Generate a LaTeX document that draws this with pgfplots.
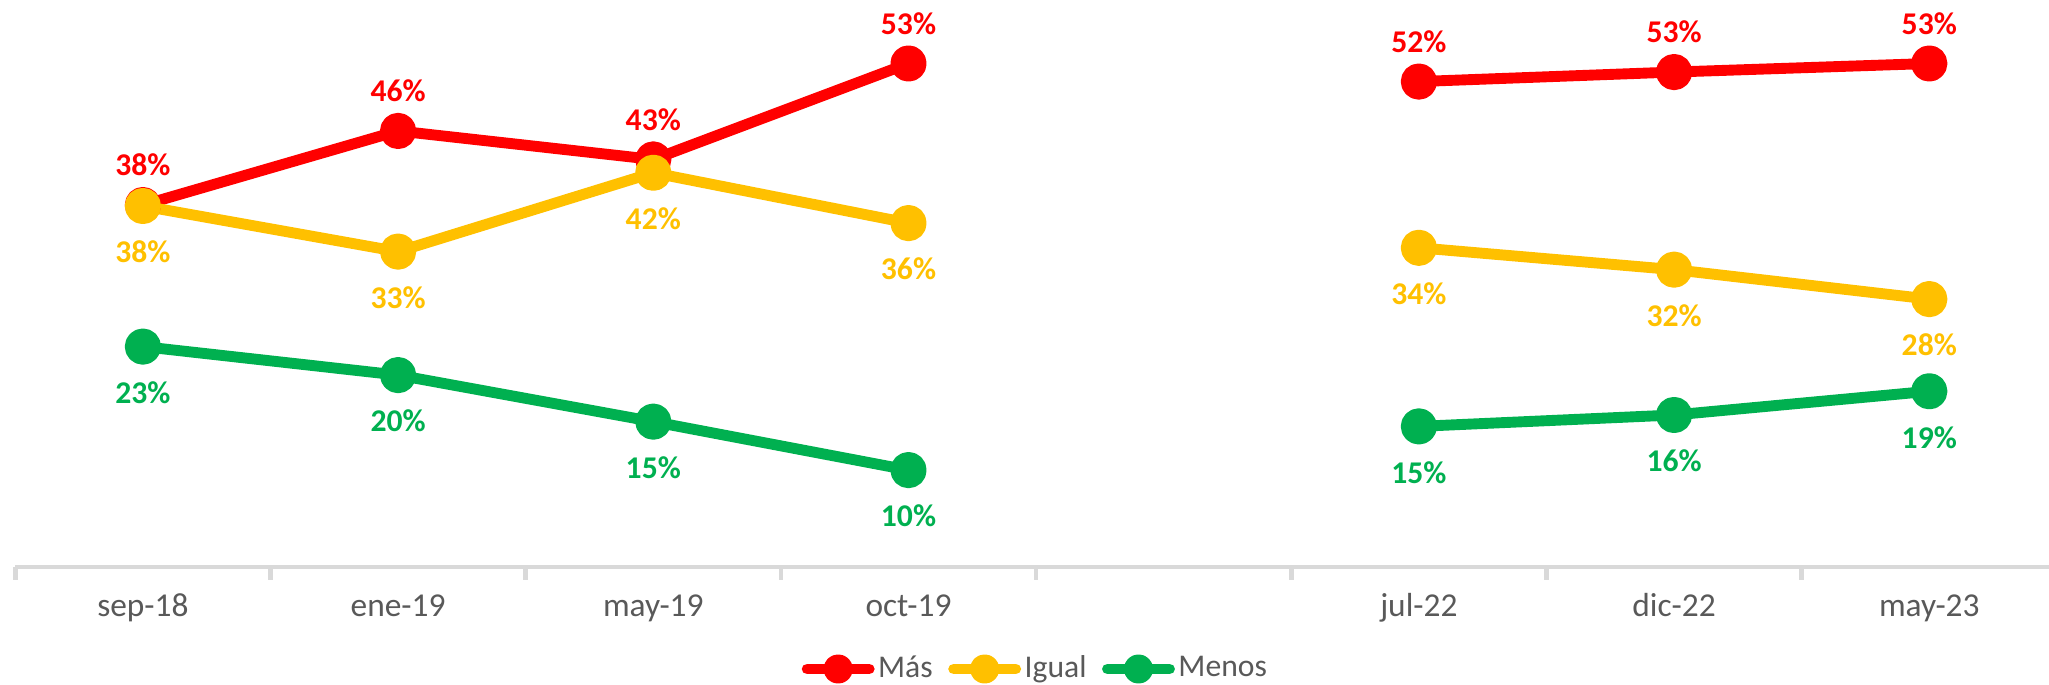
\documentclass[border=0pt]{standalone}
\usepackage{fontspec}
\setmainfont{Carlito}
\usepackage{pgfplots}
\pgfplotsset{compat=1.18}
\definecolor{mas}{HTML}{FF0000}
\definecolor{igual}{HTML}{FFC000}
\definecolor{menos}{HTML}{00B050}
\definecolor{txt}{HTML}{595959}
\definecolor{axl}{HTML}{D9D9D9}

\begin{document}
\begin{tikzpicture}
\useasboundingbox (-0.153,-1.18) rectangle (20.337,5.67);
\begin{axis}[
    at={(0,0)}, anchor=south west,
    scale only axis, width=20.416cm, height=5.605cm,
    xmin=-0.5, xmax=7.5, ymin=0, ymax=59,
    axis x line=bottom, axis y line=none,
    x axis line style={-, draw=axl, line width=1.3pt},
    xtick={0,...,7},
    xticklabels={sep-18,ene-19,may-19,oct-19,,jul-22,dic-22,may-23},
    major tick length=0pt,
    minor xtick={-0.5,0.5,...,7.5}, minor tick length=0.13cm,
    tick align=outside,
    minor tick style={draw=axl, line width=1.3pt},
    xticklabel style={font=\fontsize{9.5}{11}\selectfont, text=txt, anchor=base, yshift=-0.5cm},
    unbounded coords=jump,
    legend style={at={(0.5,-0.182)}, anchor=center, draw=none, fill=none,
        legend columns=3, font=\fontsize{9}{11}\selectfont, text=txt,
        /tikz/every even column/.append style={column sep=0.12cm},
        nodes={inner sep=1pt}},
    legend image code/.code={
        \draw[line cap=round, #1] (0cm,0cm) -- (0.62cm,0cm);
        \fill[#1] (0.31cm,0cm) circle (2.6pt);},
    every axis plot/.append style={line width=3.1pt, line join=round, mark=*, mark size=3.6pt},
    nodes near coords, point meta=explicit symbolic,
]
\addplot[mas, mark options={fill=mas},
    every node near coord/.append style={font=\bfseries\fontsize{9}{11}\selectfont, text=mas, anchor=center, yshift=0.40cm}]
    coordinates {(0,38.1)[38\%] (1,45.9)[46\%] (2,42.9)[43\%] (3,53.0)[53\%] (4,nan)[] (5,51.1)[52\%] (6,52.1)[53\%] (7,53.0)[53\%]};
\addplot[igual, mark options={fill=igual},
    every node near coord/.append style={font=\bfseries\fontsize{9}{11}\selectfont, text=igual, anchor=center, yshift=-0.46cm}]
    coordinates {(0,38.0)[38\%] (1,33.2)[33\%] (2,41.5)[42\%] (3,36.2)[36\%] (4,nan)[] (5,33.6)[34\%] (6,31.3)[32\%] (7,28.2)[28\%]};
\addplot[menos, mark options={fill=menos},
    every node near coord/.append style={font=\bfseries\fontsize{9}{11}\selectfont, text=menos, anchor=center, yshift=-0.46cm}]
    coordinates {(0,23.2)[23\%] (1,20.2)[20\%] (2,15.3)[15\%] (3,10.2)[10\%] (4,nan)[] (5,14.8)[15\%] (6,16.0)[16\%] (7,18.5)[19\%]};
\legend{Más, Igual, Menos}
\end{axis}
\end{tikzpicture}
\end{document}
